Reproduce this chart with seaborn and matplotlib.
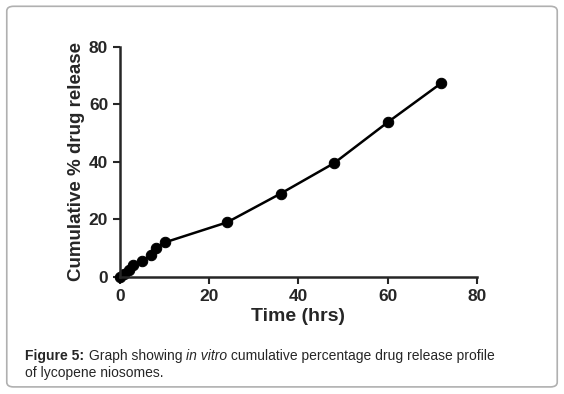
import matplotlib
matplotlib.use("Agg")
import matplotlib.pyplot as plt
import seaborn as sns
import pandas as pd
from matplotlib.patches import FancyBboxPatch

# Release data
time_hrs = [0, 1, 2, 3, 5, 7, 8, 10, 24, 36, 48, 60, 72]
release_pct = [0, 1.2, 2.5, 4.2, 5.6, 7.6, 10, 12, 19, 29, 39.6, 53.8, 67.4]
x_ticks = [0, 20, 40, 60, 80]
y_ticks = [0, 20, 40, 60, 80]

data = pd.DataFrame({'time': time_hrs, 'release': release_pct})

sns.set_style("ticks")
plt.rcParams['font.family'] = ['Liberation Sans', 'DejaVu Sans']

fig = plt.figure(figsize=(5.64, 3.94), dpi=100)
ax = fig.add_axes([0.2128, 0.297, 0.6329, 0.584])

sns.lineplot(data=data, x='time', y='release', ax=ax, color='black',
             linewidth=1.8, marker='o', markersize=7.5, markeredgecolor='black')
for ln in ax.lines:
    ln.set_clip_on(False)

ax.set_xlim(0, 80)
ax.set_ylim(0, 80)
ax.set_xticks(x_ticks)
ax.set_yticks(y_ticks)
ax.tick_params(axis='both', direction='out', length=5, width=1.5, labelsize=12.5)
for lbl in ax.get_xticklabels() + ax.get_yticklabels():
    lbl.set_fontweight('bold')
ax.set_xlabel("Time (hrs)", fontsize=14, fontweight='bold', labelpad=3)
ax.set_ylabel("Cumulative % drug release", fontsize=13.5, fontweight='bold', labelpad=3)
sns.despine(ax=ax)
for s in ['left', 'bottom']:
    ax.spines[s].set_linewidth(1.8)

# Caption box
box = FancyBboxPatch((0.012, 0.018), 0.976, 0.966, boxstyle="round,pad=0,rounding_size=0.012",
                     transform=fig.transFigure, facecolor='none', edgecolor='#b0b0b0',
                     linewidth=1.2)
fig.patches.append(box)

# Caption, pieces placed one after another
fs = 10
y1, y2 = 0.086, 0.043
fig.canvas.draw()
r = fig.canvas.get_renderer()
x = 0.045
for txt, kw in [("Figure 5:", dict(fontweight='bold')),
                (" Graph showing ", {}),
                ("in vitro", dict(style='italic')),
                (" cumulative percentage drug release profile", {})]:
    t = fig.text(x, y1, txt, fontsize=fs, ha='left', va='baseline', **kw)
    bb = t.get_window_extent(r)
    x = bb.x1 / fig.bbox.width
fig.text(0.045, y2, "of lycopene niosomes.", fontsize=fs, ha='left', va='baseline')

fig.savefig("out.png", dpi=100)
